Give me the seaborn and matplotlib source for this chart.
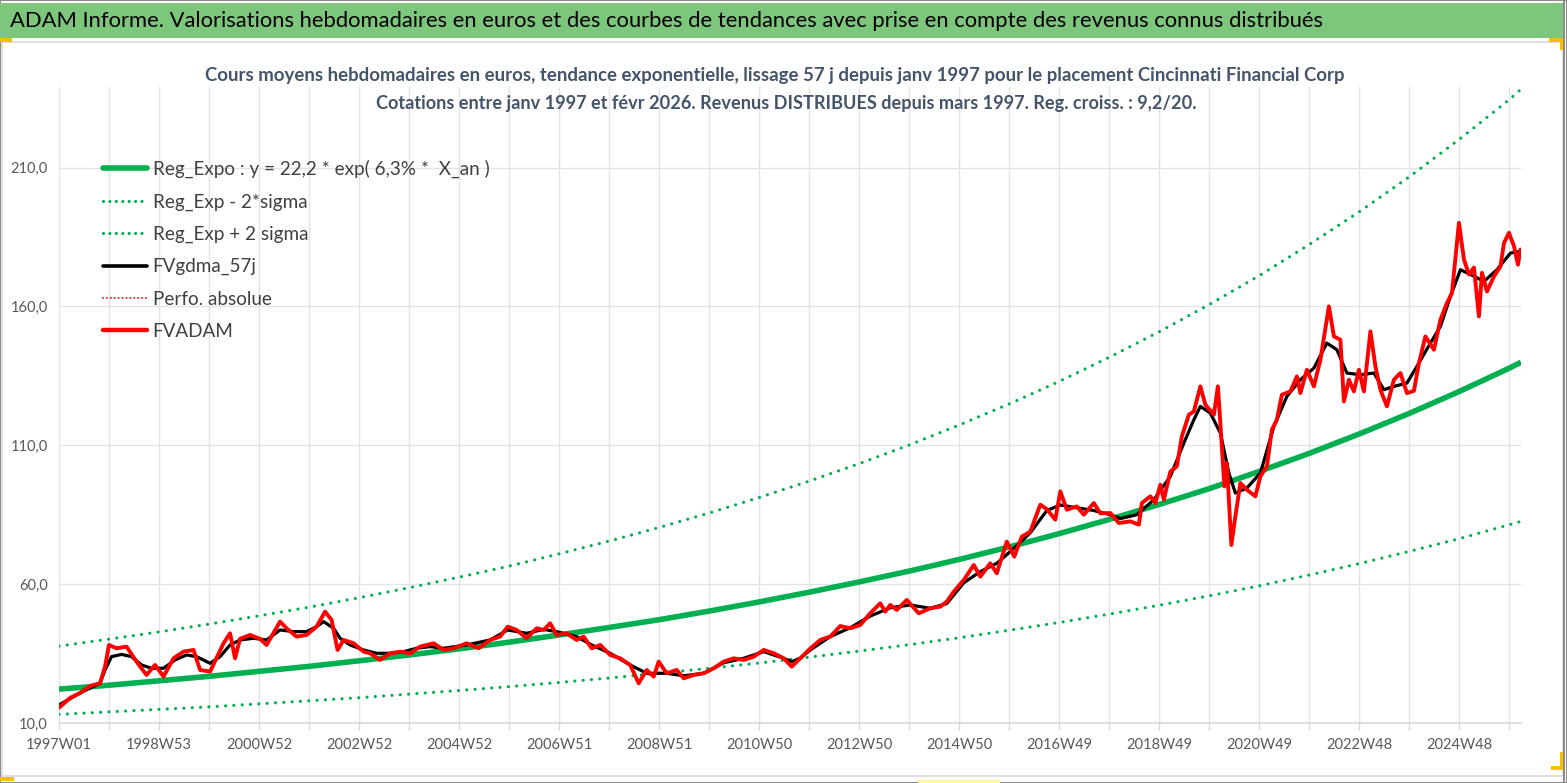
import matplotlib
matplotlib.use("Agg")
import matplotlib.pyplot as plt
import seaborn as sns
import pandas as pd
from matplotlib.lines import Line2D
from matplotlib.patches import Rectangle

sns.set_theme(style="white")
FONT = ["Lato", "DejaVu Sans"]
plt.rcParams["font.family"] = FONT

# ---------------- data ----------------
# x values: years elapsed since 1997W01 (1 year = 52 weekly categories)
annees_fvadam = [0.0, 0.22, 0.42, 0.62, 0.82, 0.92, 1.0, 1.15, 1.35, 1.55, 1.75, 1.92, 2.09, 2.29, 2.49,
                 2.69, 2.82, 3.02, 3.29, 3.42, 3.52, 3.62, 3.82, 4.02, 4.15, 4.42, 4.55, 4.75, 4.95, 5.15,
                 5.32, 5.45, 5.57, 5.69, 5.89, 6.09, 6.22, 6.42, 6.62, 6.82, 7.02, 7.22, 7.49, 7.69, 7.89,
                 8.15, 8.39, 8.62, 8.82, 8.97, 9.15, 9.35, 9.55, 9.69, 9.82, 9.95, 10.15, 10.35, 10.49,
                 10.65, 10.82, 11.02, 11.22, 11.42, 11.59, 11.75, 11.89, 11.99, 12.15, 12.35, 12.49, 12.69,
                 12.89, 13.09, 13.29, 13.49, 13.69, 13.89, 14.09, 14.29, 14.49, 14.65, 14.82, 15.02, 15.22,
                 15.42, 15.62, 15.82, 16.02, 16.22, 16.42, 16.52, 16.62, 16.75, 16.95, 17.19, 17.42, 17.62,
                 17.75, 17.89, 18.09, 18.29, 18.42, 18.62, 18.75, 18.95, 19.1, 19.25, 19.42, 19.62, 19.75,
                 19.92, 20.02, 20.15, 20.35, 20.49, 20.69, 20.82, 21.02, 21.19, 21.42, 21.59, 21.65, 21.82,
                 21.92, 22.02, 22.09, 22.22, 22.35, 22.45, 22.59, 22.69, 22.82, 22.92, 23.09, 23.17, 23.22,
                 23.30, 23.35, 23.44, 23.52, 23.62, 23.75, 23.92, 24.02, 24.15, 24.25, 24.35, 24.45, 24.62,
                 24.75, 24.82, 24.95, 25.09, 25.22, 25.39, 25.49, 25.62, 25.69, 25.79, 25.89, 25.99, 26.09,
                 26.22, 26.32, 26.42, 26.55, 26.69, 26.82, 26.95, 27.09, 27.19, 27.32, 27.49, 27.62, 27.75,
                 27.85, 27.99, 28.09, 28.19, 28.29, 28.39, 28.45, 28.55, 28.69, 28.82, 28.89, 28.99, 29.09,
                 29.17, 29.22]
fvadam = [15.5, 19.0, 20.8, 23.3, 24.3, 30.3, 38.1, 36.9, 37.5, 32.1, 27.3, 30.9, 26.7, 33.3, 35.7,
          36.3, 29.1, 28.5, 38.7, 42.3, 33.3, 40.3, 41.7, 40.3, 38.1, 46.5, 44.1, 41.1, 41.7, 44.7,
          50.1, 47.1, 36.3, 39.9, 38.7, 35.7, 35.1, 32.7, 35.1, 35.7, 35.1, 37.5, 38.7, 36.3, 36.9,
          38.7, 36.9, 39.9, 41.1, 44.7, 43.5, 40.5, 44.1, 43.5, 45.9, 41.7, 42.3, 39.9, 41.1,
          36.9, 38.1, 34.5, 33.3, 30.9, 24.3, 29.1, 26.7, 32.1, 27.9, 29.1, 26.1, 27.3,
          27.9, 29.7, 32.1, 33.3, 32.7, 33.9, 36.3, 35.1, 33.3, 30.3, 33.3, 36.8, 39.9,
          41.1, 44.9, 44.1, 45.3, 49.5, 53.1, 50.1, 52.5, 50.7, 54.3, 49.5, 51.3, 51.9,
          53.7, 57.3, 61.5, 66.9, 62.7, 67.5, 63.9, 75.3, 69.9, 77.1, 78.9, 88.6, 87.0,
          83.2, 93.4, 86.8, 88.0, 85.0, 89.2, 85.5, 85.6, 82.0, 82.6, 81.4, 89.2, 91.6,
          89.2, 95.8, 90.4, 100.5, 102.4, 113.2, 121.0, 122.2, 131.2, 124.6, 121.0, 131.2, 118.0,
          95.2, 103.6, 74.1, 84.4, 96.4, 94.0, 91.6, 98.8, 102.4, 115.6, 119.2, 128.2, 129.4,
          134.8, 128.8, 137.2, 131.2, 140.8, 160.0, 149.2, 148.0, 125.8, 133.6, 129.4, 137.2, 129.4,
          151.0, 138.4, 130.0, 124.0, 133.6, 136.0, 128.8, 129.6, 139.6, 149.2, 144.4, 155.2, 161.2,
          164.8, 190.1, 176.9, 171.5, 174.0, 156.4, 172.1, 165.4, 170.8, 174.4, 182.8, 186.5, 181.7,
          175.0, 180.5]

annees_gdma = [0.0, 0.42, 0.82, 0.92, 1.05, 1.25, 1.45, 1.65, 1.85, 2.09, 2.32, 2.55, 2.75, 3.02, 3.22,
               3.42, 3.62, 3.89, 4.15, 4.42, 4.69, 4.95, 5.15, 5.29, 5.49, 5.62, 5.82, 6.09, 6.35, 6.62,
               6.89, 7.15, 7.42, 7.69, 8.15, 8.62, 8.97, 9.35, 9.69, 9.95, 10.35, 10.65, 11.02, 11.42,
               11.75, 12.15, 12.49, 12.89, 13.29, 13.69, 14.09, 14.49, 14.65, 14.82, 15.02, 15.42, 15.82,
               16.22, 16.62, 17.02, 17.42, 17.75, 18.09, 18.42, 18.75, 19.1, 19.42, 19.75, 20.02, 20.35,
               20.69, 21.02, 21.22, 21.55, 21.89, 22.22, 22.49, 22.69, 22.82, 23.02, 23.22, 23.39, 23.52,
               23.75, 24.02, 24.29, 24.55, 24.82, 25.09, 25.35, 25.55, 25.75, 26.02, 26.29, 26.49, 26.69,
               26.95, 27.15, 27.42, 27.62, 27.82, 28.02, 28.22, 28.49, 28.75, 29.02, 29.22]
fvgdma = [16.5, 20.8, 24.3, 29.1, 33.9, 34.7, 33.9, 30.9, 29.7, 29.7, 32.7, 34.5, 33.9, 31.5, 33.9,
          38.1, 39.9, 40.5, 39.9, 43.5, 42.9, 42.9, 44.7, 46.5, 44.1, 40.5, 38.1, 36.3, 35.1, 35.1,
          35.7, 36.9, 37.5, 36.9, 38.1, 39.9, 43.5, 42.3, 43.7, 42.9, 41.1, 38.1, 35.1, 30.9,
          27.9, 27.9, 27.0, 27.9, 31.7, 33.3, 35.7, 33.3, 32.1, 33.3, 36.3, 41.1, 44.3,
          48.5, 51.5, 52.5, 51.3, 53.0, 60.5, 64.5, 67.5, 73.0, 78.5, 86.5, 88.5, 87.5,
          86.5, 85.0, 83.6, 85.0, 90.4, 98.8, 110.8, 119.2, 124.0, 121.6, 114.4, 100.0, 92.8,
          94.6, 100.0, 116.8, 127.6, 133.6, 137.8, 146.8, 144.4, 136.0, 135.4, 136.0, 130.0, 131.2,
          132.4, 138.4, 146.8, 152.8, 163.6, 173.2, 171.5, 169.0, 173.2, 179.2, 179.8]

annees_reg = [0, 1, 2, 3, 4, 5, 6, 7, 8, 9, 10, 11, 12, 13, 14, 15, 16, 17, 18, 19, 20,
              21, 22, 23, 24, 25, 26, 27, 28, 29, 29.23]
reg_expo = [22.2, 23.6, 25.2, 26.8, 28.6, 30.4, 32.4, 34.5, 36.7, 39.1, 41.7, 44.4, 47.2, 50.3, 53.6,
            57.1, 60.8, 64.7, 68.9, 73.4, 78.2, 83.3, 88.7, 94.4, 100.6, 107.1, 114.1, 121.5, 129.4,
            137.8, 139.9]
reg_moins = [13.1, 14.0, 14.9, 15.8, 16.9, 18.0, 19.1, 20.4, 21.7, 23.1, 24.6, 26.2, 27.9, 29.7, 31.6,
             33.7, 35.9, 38.2, 40.7, 43.4, 46.2, 49.2, 52.4, 55.8, 59.4, 63.3, 67.4, 71.8, 76.4,
             81.4, 82.6]
reg_plus = [37.7, 40.2, 42.8, 45.6, 48.6, 51.7, 55.1, 58.7, 62.5, 66.5, 70.9, 75.5, 80.4, 85.6, 91.2,
            97.1, 103.4, 110.1, 117.3, 124.9, 133.0, 141.7, 150.9, 160.7, 171.1, 182.3, 194.1, 206.7,
            220.2, 234.5, 238.2]

x_labels = ["1997W01", "1998W53", "2000W52", "2002W52", "2004W52", "2006W51", "2008W51", "2010W50",
            "2012W50", "2014W50", "2016W49", "2018W49", "2020W49", "2022W48", "2024W48"]
y_ticks = [10, 60, 110, 160, 210]
n_semaines = 1520

legend_labels = ["Reg_Expo : y = 22,2 * exp( 6,3% *  X_an )", "Reg_Exp - 2*sigma", "Reg_Exp + 2 sigma",
                 "FVgdma_57j", "Perfo. absolue", "FVADAM"]

header = ("ADAM Informe. Valorisations hebdomadaires en euros et des courbes de tendances avec prise "
          "en compte des revenus connus distribués")
titre1 = ("Cours moyens hebdomadaires en euros, tendance exponentielle, lissage 57 j depuis janv 1997 "
          "pour le placement Cincinnati Financial Corp")
titre2 = ("Cotations entre janv 1997 et févr 2026. Revenus DISTRIBUES depuis mars 1997. "
          "Reg. croiss. : 9,2/20.")

# ---------------- frames ----------------
SEM = 52
df_fv = pd.DataFrame({"sem": [a * SEM for a in annees_fvadam], "val": fvadam})
df_gd = pd.DataFrame({"sem": [a * SEM for a in annees_gdma], "val": fvgdma})
df_rg = pd.DataFrame({"sem": [a * SEM for a in annees_reg], "reg": reg_expo,
                      "moins": reg_moins, "plus": reg_plus})

W, H = 1567, 783
fig = plt.figure(figsize=(W / 100, H / 100), dpi=100)
fig.patch.set_facecolor("white")

GREEN = "#00B050"
RED = "#FF0000"
GRID = "#E3E3EA"
TXT = "#595959"
DOT = (0, (0.01, 2.6))

# background decorations (header band, frames)
fig.add_artist(Rectangle((0, 0), 1, 1, transform=fig.transFigure, fill=False,
                         edgecolor="#8C8C8C", lw=1.5))
fig.add_artist(Rectangle((0, 1 - 38 / H), 1563 / W, 35 / H, transform=fig.transFigure,
                         facecolor="#7DC77D", edgecolor="none"))
fig.add_artist(Rectangle((2 / W, 1 - 776 / H), 1561 / W, (776 - 42) / H, transform=fig.transFigure,
                         fill=False, edgecolor="#D9D9D9", lw=1.2))
fig.add_artist(Rectangle((1563 / W, 0), 1.5 / W, 1, transform=fig.transFigure,
                         facecolor="#8C8C8C", edgecolor="none"))
for (x0, y0, w, h) in [(0, 38, 12, 4), (1549, 38, 14, 4), (1560, 38, 3, 12), (0, 777, 14, 4),
                       (1551, 766, 12, 4), (1560, 752, 3, 18)]:
    fig.add_artist(Rectangle((x0 / W, 1 - (y0 + h) / H), w / W, h / H, transform=fig.transFigure,
                             facecolor="#F5C000", edgecolor="none"))
fig.add_artist(Rectangle((918 / W, 1 - 783 / H), 82 / W, 3 / H, transform=fig.transFigure,
                         facecolor="#FFF59A", edgecolor="none"))

fig.text(10 / W, 1 - 21 / H, header, fontsize=15.8, color="black", ha="left", va="center")
fig.text(775 / W, 1 - 75 / H, titre1, fontsize=13.4, color="#44546A", fontweight="bold",
         ha="center", va="center")
fig.text(786 / W, 1 - 103 / H, titre2, fontsize=13.1, color="#44546A", fontweight="bold",
         ha="center", va="center")

# ---------------- axes ----------------
ax = fig.add_axes([59 / W, 1 - 723 / H, (1521 - 59) / W, (723 - 87) / H])
ax.set_facecolor("none")

sns.lineplot(data=df_rg, x="sem", y="reg", ax=ax, color=GREEN, lw=4.0, zorder=3,
             solid_capstyle="butt")
sns.lineplot(data=df_rg, x="sem", y="moins", ax=ax, color=GREEN, lw=2.3, linestyle=DOT,
             dash_capstyle="round", zorder=3)
sns.lineplot(data=df_rg, x="sem", y="plus", ax=ax, color=GREEN, lw=2.3, linestyle=DOT,
             dash_capstyle="round", zorder=3)
sns.lineplot(data=df_gd, x="sem", y="val", ax=ax, color="black", lw=2.3, zorder=4)
sns.lineplot(data=df_fv, x="sem", y="val", ax=ax, color=RED, lw=2.8, zorder=5)

ax.set_xlim(0, n_semaines)
ax.set_ylim(10, 239)
ticks = list(range(0, n_semaines + 1, SEM))
ax.set_xticks(ticks)
labs = []
for i, _ in enumerate(ticks):
    labs.append(x_labels[i // 2] if (i % 2 == 0 and i // 2 < len(x_labels)) else "")
ax.set_xticklabels(labs)
ax.set_yticks(y_ticks)
ax.set_yticklabels([f"{v:.1f}".replace(".", ",") for v in y_ticks])
ax.set_xlabel("")
ax.set_ylabel("")
ax.grid(True, color=GRID, lw=1.0)
ax.set_axisbelow(True)
for s in ["top", "right", "left"]:
    ax.spines[s].set_visible(False)
ax.spines["bottom"].set_color("#D9D9D9")
ax.spines["bottom"].set_linewidth(1.2)
ax.tick_params(axis="x", which="major", length=5, width=1, color="#D9D9D9", labelsize=10.5,
               labelcolor=TXT, pad=6, bottom=True)
ax.tick_params(axis="y", length=0, labelsize=10.5, labelcolor=TXT, pad=8)

handles = [Line2D([], [], color=GREEN, lw=4.0),
           Line2D([], [], color=GREEN, lw=2.3, linestyle=(0, (0.01, 2.0)), dash_capstyle="round"),
           Line2D([], [], color=GREEN, lw=2.3, linestyle=(0, (0.01, 2.0)), dash_capstyle="round"),
           Line2D([], [], color="black", lw=2.6),
           Line2D([], [], color=RED, lw=1.4, linestyle=(0, (0.01, 2.0)), dash_capstyle="round"),
           Line2D([], [], color=RED, lw=3.2)]
fig.legend(handles, legend_labels, loc="upper left", bbox_to_anchor=(103 / W, 1 - 160 / H),
           frameon=False, fontsize=13.6, handlelength=2.33, handletextpad=0.3, labelspacing=0.80,
           borderpad=0, borderaxespad=0, labelcolor="#404040")

fig.savefig("out.png", dpi=100)
